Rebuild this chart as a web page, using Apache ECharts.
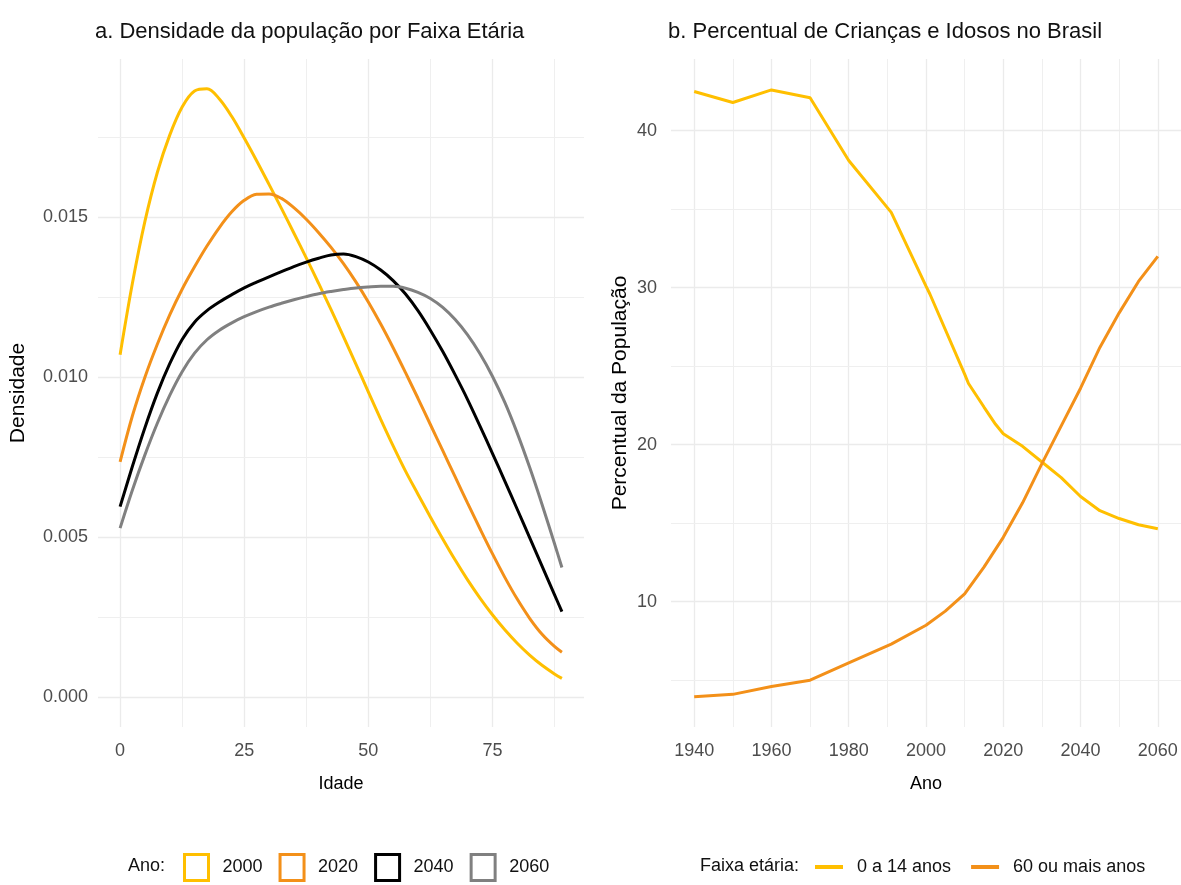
<!DOCTYPE html>
<html>
<head>
<meta charset="utf-8">
<script src="https://cdn.jsdelivr.net/npm/echarts@6/dist/echarts.min.js"></script>
<style>
html,body{margin:0;padding:0;background:#fff;}
#chart{width:1181px;height:885px;}
</style>
</head>
<body>
<div id="chart"></div>
<script>
// ---- Panel a: density by age ----
const ages = [0, 2.5, 5, 7.5, 10, 12.5, 15, 17.5, 20, 22.5, 25, 27.5, 30, 32.5, 35, 37.5, 40, 42.5, 45, 47.5, 50, 52.5, 55, 57.5, 60, 62.5, 65, 67.5, 70, 72.5, 75, 77.5, 80, 82.5, 85, 87.5, 89];
const dens2000 = [0.01070, 0.01295, 0.01487, 0.01640, 0.01757, 0.01845, 0.01895, 0.01902, 0.01870, 0.01815, 0.01748, 0.01677, 0.01603, 0.01528, 0.01451, 0.01373, 0.01293, 0.01211, 0.01127, 0.01041, 0.00954, 0.00868, 0.00785, 0.00706, 0.00634, 0.00563, 0.00494, 0.00428, 0.00366, 0.00309, 0.00257, 0.00210, 0.00168, 0.00131, 0.00099, 0.00072, 0.00058];
const dens2020 = [0.00735, 0.00880, 0.01000, 0.01103, 0.01195, 0.01275, 0.01345, 0.01410, 0.01468, 0.01517, 0.01553, 0.01572, 0.01573, 0.01559, 0.01530, 0.01494, 0.01452, 0.01406, 0.01355, 0.01298, 0.01235, 0.01166, 0.01092, 0.01014, 0.00934, 0.00852, 0.00770, 0.00688, 0.00606, 0.00526, 0.00448, 0.00374, 0.00306, 0.00246, 0.00196, 0.00158, 0.00140];
const dens2040 = [0.00595, 0.00722, 0.00842, 0.00950, 0.01042, 0.01118, 0.01172, 0.01208, 0.01235, 0.01258, 0.01279, 0.01297, 0.01314, 0.01330, 0.01346, 0.01360, 0.01372, 0.01382, 0.01385, 0.01377, 0.01360, 0.01335, 0.01302, 0.01260, 0.01208, 0.01147, 0.01080, 0.01007, 0.00930, 0.00847, 0.00762, 0.00675, 0.00587, 0.00498, 0.00409, 0.00320, 0.00267];
const dens2060 = [0.00528, 0.00648, 0.00757, 0.00856, 0.00943, 0.01017, 0.01075, 0.01117, 0.01147, 0.01170, 0.01189, 0.01205, 0.01219, 0.01231, 0.01242, 0.01252, 0.01261, 0.01268, 0.01274, 0.01279, 0.01282, 0.01284, 0.01284, 0.01278, 0.01265, 0.01246, 0.01218, 0.01180, 0.01132, 0.01073, 0.01003, 0.00921, 0.00825, 0.00718, 0.00602, 0.00480, 0.00405];
const densNames = ['2000', '2020', '2040', '2060'];
const densColors = ['#FFBF00', '#F39019', '#000000', '#808080'];
const xTicksA = [0, 25, 50, 75];
const xGridA = [0, 12.5, 25, 37.5, 50, 62.5, 75, 87.5];
const yTicksA = [0, 0.005, 0.010, 0.015];
const yGridA = [0, 0.0025, 0.005, 0.0075, 0.010, 0.0125, 0.015, 0.0175];

// ---- Panel b: percent children / elderly ----
const anos0a14 = [1940, 1950, 1960, 1970, 1980, 1991, 2000, 2001, 2010, 2011, 2015, 2018, 2020, 2025, 2030, 2035, 2040, 2045, 2050, 2055, 2060];
const pct0a14 = [42.5, 41.8, 42.6, 42.1, 38.1, 34.8, 30.1, 29.6, 24.5, 23.9, 22.4, 21.3, 20.7, 19.9, 18.9, 17.9, 16.7, 15.8, 15.3, 14.9, 14.65];
const anos60 = [1940, 1950, 1960, 1970, 1980, 1991, 2000, 2005, 2010, 2015, 2020, 2025, 2030, 2035, 2040, 2045, 2050, 2055, 2060];
const pct60 = [3.95, 4.1, 4.6, 5.0, 6.1, 7.3, 8.5, 9.4, 10.5, 12.2, 14.1, 16.3, 18.8, 21.2, 23.6, 26.2, 28.4, 30.4, 32.0];
const pctNames = ['0 a 14 anos', '60 ou mais anos'];
const pctColors = ['#FFBF00', '#F39019'];
const xTicksB = [1940, 1960, 1980, 2000, 2020, 2040, 2060];
const xGridB = [1940, 1950, 1960, 1970, 1980, 1990, 2000, 2010, 2020, 2030, 2040, 2050, 2060];
const yTicksB = [10, 20, 30, 40];
const yGridB = [5, 10, 15, 20, 25, 30, 35, 40];

const FONT = 'Liberation Sans, Arial, sans-serif';
const majorA_x = new Set(xTicksA), majorA_y = new Set(yTicksA);
const majorB_x = new Set(xTicksB), majorB_y = new Set(yTicksB);

function gridLines(xs, ys, majX, majY) {
  const d = [];
  xs.forEach(v => d.push({xAxis: v, lineStyle: {color: majX.has(v) ? '#EBEBEB' : '#EFEFEF', width: majX.has(v) ? 1.3 : 1.1, type: 'solid'}}));
  ys.forEach(v => d.push({yAxis: v, lineStyle: {color: majY.has(v) ? '#EBEBEB' : '#EFEFEF', width: majY.has(v) ? 1.3 : 1.1, type: 'solid'}}));
  return d;
}
function markGrid(xs, ys, mx, my) {
  return {symbol: ['none', 'none'], silent: true, animation: false, precision: 8, z: 0,
          label: {show: false}, emphasis: {disabled: true}, data: gridLines(xs, ys, mx, my)};
}

const densArrays = [dens2000, dens2020, dens2040, dens2060];
const series = [];
series.push({type: 'line', xAxisIndex: 0, yAxisIndex: 0, data: [], z: 0, markLine: markGrid(xGridA, yGridA, majorA_x, majorA_y)});
series.push({type: 'line', xAxisIndex: 1, yAxisIndex: 1, data: [], z: 0, markLine: markGrid(xGridB, yGridB, majorB_x, majorB_y)});
densArrays.forEach((arr, i) => {
  series.push({
    name: densNames[i], type: 'line', xAxisIndex: 0, yAxisIndex: 0, z: 3 + i,
    smooth: 0.35, showSymbol: false, animation: false,
    lineStyle: {color: densColors[i], width: 3},
    itemStyle: {color: densColors[i]},
    data: ages.map((a, j) => [a, arr[j]])
  });
});
[[anos0a14, pct0a14], [anos60, pct60]].forEach((p, i) => {
  series.push({
    name: pctNames[i], type: 'line', xAxisIndex: 1, yAxisIndex: 1, z: 3 + i,
    showSymbol: false, animation: false,
    lineStyle: {color: pctColors[i], width: 3},
    itemStyle: {color: pctColors[i]},
    data: p[0].map((y, j) => [y, p[1][j]])
  });
});

const tickLabel = {color: '#4D4D4D', fontSize: 18, fontFamily: FONT};
const nameStyleX = {color: '#000', fontSize: 18, fontFamily: FONT};
const nameStyleY = {color: '#000', fontSize: 21, fontFamily: FONT};

const option = {
  backgroundColor: '#fff',
  animation: false,
  textStyle: {fontFamily: FONT},
  title: [
    {text: 'a. Densidade da população por Faixa Etária', left: 90, top: 16, textStyle: {fontSize: 22, fontWeight: 'normal', color: '#111', fontFamily: FONT}},
    {text: 'b. Percentual de Crianças e Idosos no Brasil', left: 663, top: 16, textStyle: {fontSize: 22, fontWeight: 'normal', color: '#111', fontFamily: FONT}},
    {text: 'Ano:', left: 123, top: 852, textStyle: {fontSize: 18, fontWeight: 'normal', color: '#111', fontFamily: FONT}},
    {text: 'Faixa etária:', left: 695, top: 852, textStyle: {fontSize: 18, fontWeight: 'normal', color: '#111', fontFamily: FONT}}
  ],
  grid: [
    {left: 98, top: 59, width: 486, height: 668},
    {left: 671, top: 59, width: 512, height: 668}
  ],
  xAxis: [
    {type: 'value', gridIndex: 0, min: -4.45, max: 93.45,
     axisLine: {show: false}, axisTick: {show: false}, splitLine: {show: false},
     axisLabel: Object.assign({customValues: xTicksA, margin: 15, formatter: v => String(v)}, tickLabel),
     name: 'Idade', nameLocation: 'middle', nameGap: 48, nameTextStyle: nameStyleX},
    {type: 'value', gridIndex: 1, min: 1934, max: 2066,
     axisLine: {show: false}, axisTick: {show: false}, splitLine: {show: false},
     axisLabel: Object.assign({customValues: xTicksB, margin: 15, formatter: v => String(v)}, tickLabel),
     name: 'Ano', nameLocation: 'middle', nameGap: 48, nameTextStyle: nameStyleX}
  ],
  yAxis: [
    {type: 'value', gridIndex: 0, min: -0.00094, max: 0.01995,
     axisLine: {show: false}, axisTick: {show: false}, splitLine: {show: false},
     axisLabel: Object.assign({customValues: yTicksA, margin: 10, formatter: v => v.toFixed(3)}, tickLabel),
     name: 'Densidade', nameLocation: 'middle', nameGap: 69, nameRotate: 90, nameTextStyle: nameStyleY},
    {type: 'value', gridIndex: 1, min: 2.02, max: 44.57,
     axisLine: {show: false}, axisTick: {show: false}, splitLine: {show: false},
     axisLabel: Object.assign({customValues: yTicksB, margin: 14, formatter: v => String(v)}, tickLabel),
     name: 'Percentual da População', nameLocation: 'middle', nameGap: 40, nameRotate: 90, nameTextStyle: nameStyleY}
  ],
  legend: [
    {left: 178, top: 848, orient: 'horizontal', itemWidth: 24, itemHeight: 26, itemGap: 16,
     selectedMode: false,
     textStyle: {fontSize: 18, color: '#111', fontFamily: FONT, padding: [0, 0, 0, 9]},
     data: densNames.map((n, i) => ({name: n, icon: 'rect', itemStyle: {color: 'rgba(0,0,0,0)', borderColor: densColors[i], borderWidth: 3}}))},
    {left: 810, top: 853, orient: 'horizontal', itemWidth: 28, itemHeight: 4, itemGap: 20,
     selectedMode: false,
     textStyle: {fontSize: 18, color: '#111', fontFamily: FONT, padding: [0, 0, 0, 9]},
     data: pctNames.map((n, i) => ({name: n, icon: 'rect', itemStyle: {color: pctColors[i], borderWidth: 0}}))}
  ],
  series: series
};

const chart = echarts.init(document.getElementById('chart'), null, {renderer: 'canvas'});
chart.setOption(option);
</script>
</body>
</html>
